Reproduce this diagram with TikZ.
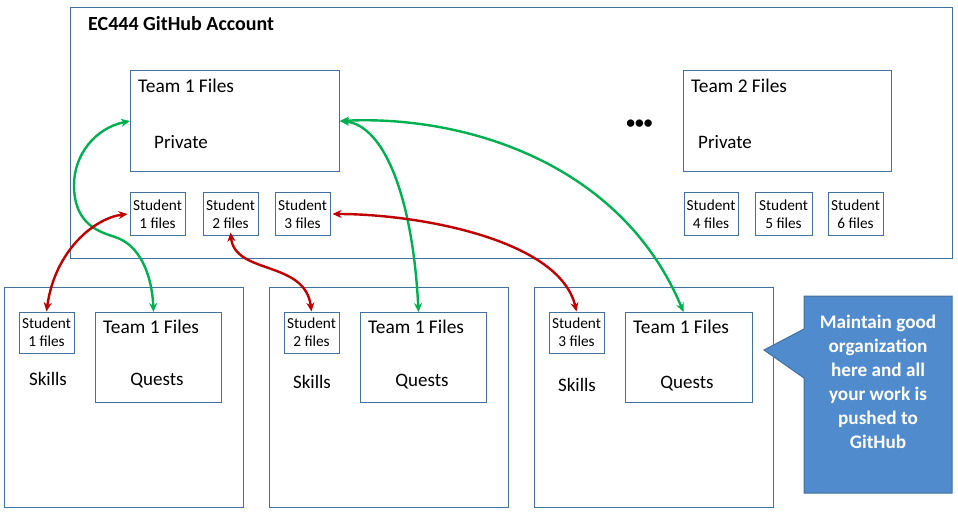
\documentclass[tikz,border=0pt]{standalone}
\usepackage{fontspec}
\setmainfont{Carlito}
\usetikzlibrary{arrows.meta,calc}
\definecolor{boxblue}{RGB}{65,113,156}
\definecolor{callfill}{RGB}{80,140,205}
\definecolor{arrgreen}{RGB}{0,176,80}
\definecolor{arrred}{RGB}{192,0,0}
\tikzset{
  frame/.style={draw=boxblue,line width=1pt,fill=none,inner sep=0pt,anchor=north west},
  stud/.style={frame,anchor=center,align=center,font=\fontsize{15.3}{17.6}\selectfont},
  lbl/.style={inner sep=0pt,font=\fontsize{19}{22}\selectfont},
  teamlbl/.style={lbl,anchor=base west,font=\fontsize{19.4}{22}\selectfont},
  greenarr/.style={draw=arrgreen,line width=2.4pt,{Stealth[length=9pt,width=8pt]}-{Stealth[length=9pt,width=8pt]}},
  redarr/.style={draw=arrred,line width=2.4pt,{Stealth[length=9pt,width=8pt]}-{Stealth[length=9pt,width=8pt]}}
}
\begin{document}
\begin{tikzpicture}[x=1pt,y=-1pt]
\useasboundingbox (0,0) rectangle (958,513);
% account box
\node[frame,minimum width=882pt,minimum height=251pt] (acct) at (70,7) {};
\node[lbl,anchor=base west,font=\fontsize{20}{22}\selectfont\bfseries] (title) at (88,31) {EC444 GitHub Account};
% team 1
\node[frame,minimum width=209pt,minimum height=101pt] (t1) at (130,70) {};
\node[teamlbl] (t1a) at (138,93) {Team 1 Files};
\node[lbl,anchor=base west] (t1b) at (154,149) {Private};
% team 2
\node[frame,minimum width=208pt,minimum height=101pt] (t2) at (683,70) {};
\node[teamlbl] (t2a) at (691,93) {Team 2 Files};
\node[lbl,anchor=base west] (t2b) at (698,149) {Private};
\node[lbl,anchor=center,font=\fontsize{17.5}{20}\selectfont\bfseries] (dots) at (639.5,124) {•••};
% student boxes top
\node[stud,minimum width=55pt,minimum height=42pt] (s1) at (157.5,214) {Student\\1 files};
\node[stud,minimum width=55pt,minimum height=42pt] (s2) at (230.5,214) {Student\\2 files};
\node[stud,minimum width=55pt,minimum height=42pt] (s3) at (302.5,214) {Student\\3 files};
\node[stud,minimum width=54pt,minimum height=42pt] (s4) at (711,214) {Student\\4 files};
\node[stud,minimum width=57pt,minimum height=42pt] (s5) at (783.5,214) {Student\\5 files};
\node[stud,minimum width=55pt,minimum height=42pt] (s6) at (855.5,214) {Student\\6 files};
% bottom boxes
\node[frame,minimum width=239pt,minimum height=220pt] (ba) at (4,287) {};
\node[frame,minimum width=239pt,minimum height=220pt] (bb) at (269,287) {};
\node[frame,minimum width=239pt,minimum height=220pt] (bc) at (534,287) {};
\node[stud,minimum width=55pt,minimum height=41pt] (ua) at (46.5,332.5) {Student\\1 files};
\node[stud,minimum width=55pt,minimum height=41pt] (ub) at (311.5,332.5) {Student\\2 files};
\node[stud,minimum width=55pt,minimum height=41pt] (uc) at (576.5,332.5) {Student\\3 files};
\node[frame,minimum width=126pt,minimum height=90pt] (qa) at (95,312) {};
\node[frame,minimum width=126pt,minimum height=90pt] (qb) at (360,312) {};
\node[frame,minimum width=127pt,minimum height=90pt] (qc) at (625,312) {};
\node[teamlbl] (qa1) at (103,333) {Team 1 Files};
\node[teamlbl] (qb1) at (368,333) {Team 1 Files};
\node[teamlbl] (qc1) at (633,333) {Team 1 Files};
\node[lbl,anchor=base] (ska) at (48,385) {Skills};
\node[lbl,anchor=base] (skb) at (312,388) {Skills};
\node[lbl,anchor=base] (skc) at (577,391) {Skills};
\node[lbl,anchor=base] (qsa) at (157,385) {Quests};
\node[lbl,anchor=base] (qsb) at (422,386) {Quests};
\node[lbl,anchor=base] (qsc) at (687,388) {Quests};
% callout
\draw[draw=boxblue,line width=1pt,fill=callfill] (804,296) -- (952,296) -- (952,493) -- (804,493) -- (804,378) -- (764,350) -- (804,329) -- cycle;
\node[inner sep=0pt,align=center,text=white,anchor=north,font=\fontsize{19.2}{24}\selectfont\bfseries] (call) at (878,315) {Maintain good\\organization\\here and all\\your work is\\pushed to\\GitHub};
% arrows
\draw[greenarr] (t1.west) .. controls (95,128) and (74,155) .. (74,185) .. controls (74,225) and (100,232) .. (115,237) .. controls (140,245) and (152,275) .. ([xshift=-5pt]qa.north);
\draw[greenarr] (t1.east) .. controls (385,125) and (413,200) .. ([xshift=-5pt]qb.north);
\draw[greenarr] (t1.east) .. controls (460,115) and (620,160) .. ([xshift=-5.5pt]qc.north);
\draw[redarr] ([xshift=-2pt]s1.west) .. controls (95,218) and (55,250) .. (ua.north);
\draw[redarr] ([yshift=3pt]s2.south) .. controls (235,275) and (305,260) .. (ub.north);
\draw[redarr] ([xshift=2pt]s3.east) .. controls (420,214) and (560,240) .. (uc.north);
\end{tikzpicture}
\end{document}
